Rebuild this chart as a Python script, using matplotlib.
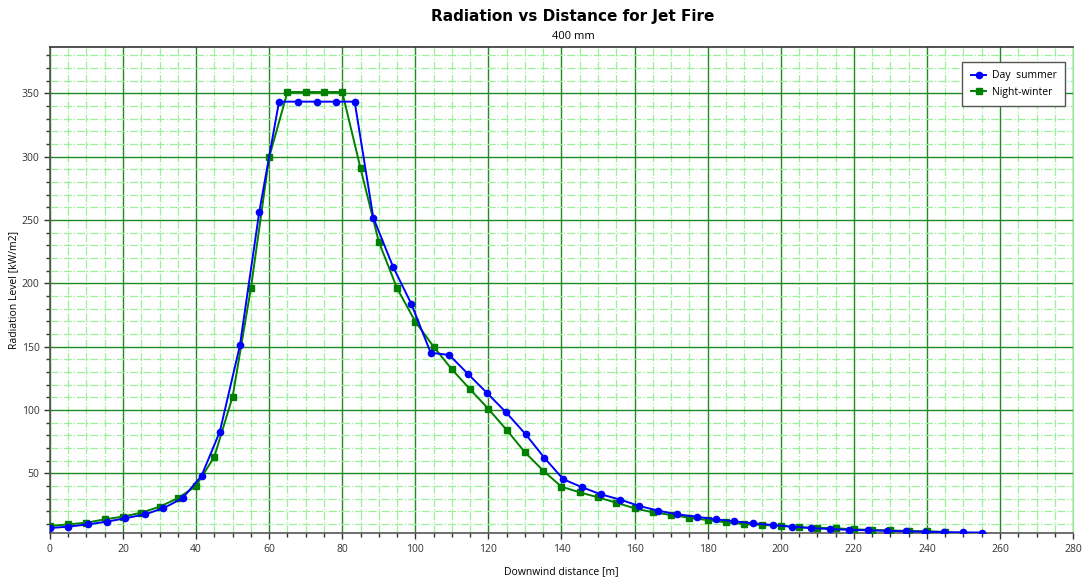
import matplotlib
matplotlib.use("Agg")
import matplotlib.pyplot as plt
from matplotlib.ticker import MultipleLocator

# Day - summer (circles)
day_x = [0, 5.0, 10.4, 15.5, 20.6, 26.0, 31.0, 36.3, 41.5, 46.5,
         52.0, 57.3, 62.7, 67.8, 73.0, 78.2, 83.4, 88.5, 93.9, 98.9,
         104.2, 109.3, 114.5, 119.7, 124.8, 130.2, 135.3, 140.5, 145.7, 150.8,
         156.1, 161.3, 166.5, 171.7, 177.0, 182.2, 187.3, 192.5, 197.8, 203.0,
         208.2, 213.4, 218.6, 223.8, 229.0, 234.2, 239.4, 244.6, 249.8, 255.0]
day_y = [6.8, 7.9, 9.7, 11.8, 14.5, 17.6, 22.4, 30.3, 48.1, 82.9,
         151.0, 256.5, 343.4, 343.4, 343.4, 343.4, 343.4, 251.8, 213.1, 183.8,
         145.2, 143.4, 128.2, 113.2, 98.2, 80.8, 62.3, 45.3, 38.9, 33.4,
         29.2, 24.2, 20.5, 17.6, 15.7, 13.7, 12.1, 10.5, 9.2, 7.9,
         6.8, 6.0, 5.4, 5.0, 4.6, 4.2, 3.9, 3.6, 3.4, 3.2]

# Night - winter (squares)
night_x = [0, 5, 10, 15, 20, 25, 30, 35, 40, 45,
           50, 55, 60, 65, 70, 75, 80, 85, 90, 95,
           100, 105, 110, 115, 120, 125, 130, 135, 140, 145,
           150, 155, 160, 165, 170, 175, 180, 185, 190, 195,
           200, 205, 210, 215, 220, 225, 230, 235, 240, 245]
night_y = [8.4, 9.7, 11.0, 13.7, 15.8, 18.9, 23.6, 30.3, 40.0, 63.1,
           110.5, 196.1, 299.5, 351.0, 351.0, 351.0, 351.0, 290.8, 232.8, 196.1,
           169.7, 150.0, 132.1, 116.3, 100.8, 84.2, 66.6, 52.1, 39.4, 35.0,
           31.0, 26.8, 22.4, 19.2, 17.1, 14.9, 13.1, 11.3, 9.9, 9.2,
           8.6, 7.3, 7.1, 6.6, 5.8, 5.3, 4.9, 4.5, 4.2, 3.8]

plt.rcParams['font.family'] = ['Open Sans', 'DejaVu Sans']

fig = plt.figure(figsize=(10.85, 5.81), dpi=100)
ax = fig.add_axes([0.046, 0.082, 0.943, 0.837])

ax.plot(day_x, day_y, color='#0000ff', marker='o', markersize=4.5, linewidth=1.4,
        label='Day  summer', zorder=4)
ax.plot(night_x, night_y, color='#008000', marker='s', markersize=4.5, linewidth=1.4,
        label='Night-winter', zorder=3)

ax.set_xlim(0, 280)
ax.set_ylim(2.6, 386.5)
ax.xaxis.set_major_locator(MultipleLocator(20))
ax.xaxis.set_minor_locator(MultipleLocator(5))
ax.yaxis.set_major_locator(MultipleLocator(50))
ax.yaxis.set_minor_locator(MultipleLocator(10))

ax.grid(True, which='minor', color='#9cf09c', linestyle='-.', linewidth=0.9)
ax.grid(True, which='major', color='#1f8a1f', linestyle='-', linewidth=1.0)
ax.set_axisbelow(True)

ax.tick_params(axis='both', which='major', direction='out', length=4, width=1,
               color='#333333', labelsize=7.5, labelcolor='#333333')
ax.tick_params(axis='both', which='minor', direction='out', length=3, width=1,
               color='#333333')

yt = [50, 100, 150, 200, 250, 300, 350]
ax.set_yticks(yt)
ax.set_yticklabels([str(v) for v in yt])

for side in ['left', 'bottom']:
    ax.spines[side].set_color('#555555')
    ax.spines[side].set_linewidth(1.2)
ax.spines['top'].set_color('#333333')
ax.spines['top'].set_linewidth(1.2)
ax.spines['right'].set_color('#90ee90')

ax.set_xlabel('Downwind distance [m]', fontsize=7.5, labelpad=8)
ax.set_ylabel('Radiation Level [kW/m2]', fontsize=7.5, labelpad=2)

fig.text(0.528, 0.972, 'Radiation vs Distance for Jet Fire', ha='center', va='center',
         fontsize=11, fontweight='bold',
         family=['Liberation Sans Narrow', 'DejaVu Sans'])
fig.text(0.528, 0.938, '400 mm', ha='center', va='center', fontsize=8)

leg = ax.legend(loc='upper right', bbox_to_anchor=(0.997, 0.98), fontsize=7.5,
                fancybox=False, framealpha=1, edgecolor='#555555',
                handlelength=1.5, borderpad=0.8, labelspacing=0.55,
                handletextpad=0.5)
leg.get_frame().set_linewidth(1.0)

fig.savefig('out.png', dpi=100)
